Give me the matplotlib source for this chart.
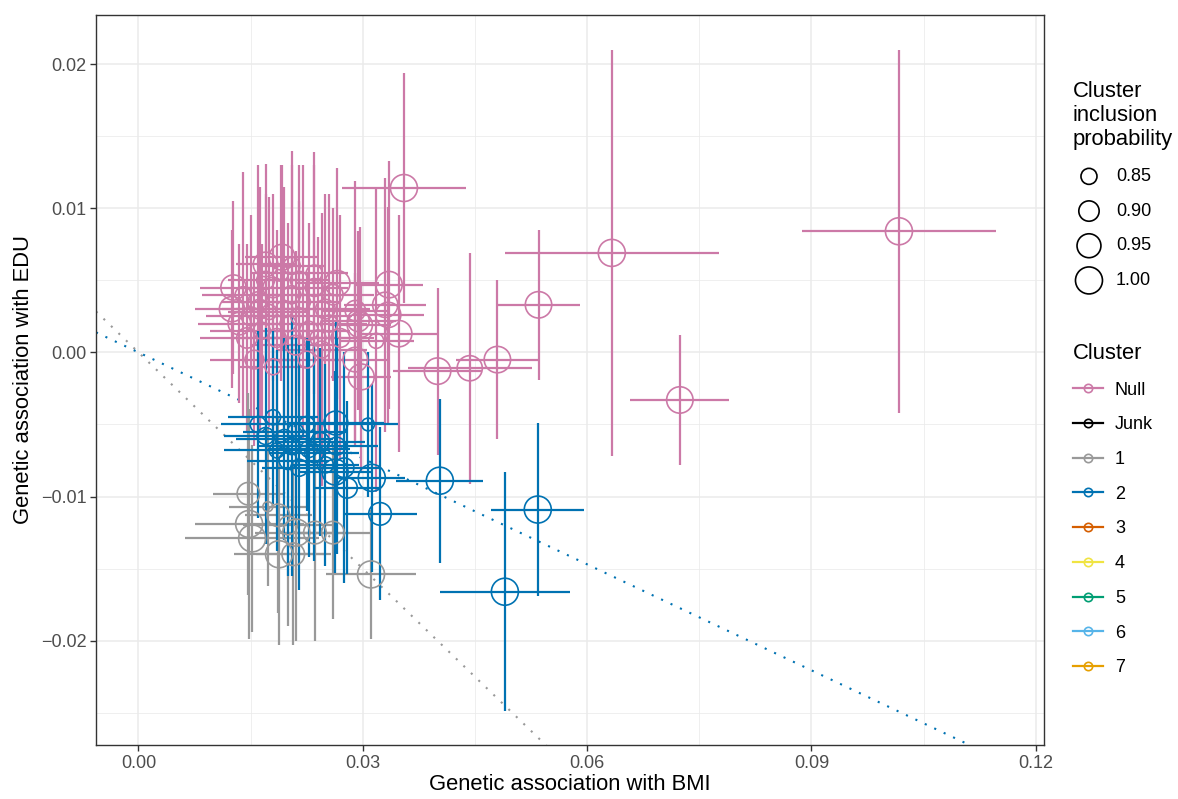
import numpy as np
import matplotlib
matplotlib.use("Agg")
import matplotlib.pyplot as plt
from matplotlib.lines import Line2D

plt.rcParams['font.family'] = ['Liberation Sans', 'DejaVu Sans']

# cluster Null (pink)
null_x = [0.0355, 0.0633, 0.1017, 0.0724, 0.0535, 0.0480, 0.0443, 0.0400, 0.0335, 0.0330,
          0.0334, 0.0348, 0.0296, 0.0266, 0.0290, 0.0298, 0.0192, 0.0170, 0.0127, 0.0125,
          0.0290, 0.0294, 0.0140, 0.0150, 0.0160, 0.0165, 0.0175, 0.0180, 0.0185, 0.0195,
          0.0200, 0.0205, 0.0210, 0.0215, 0.0220, 0.0228, 0.0235, 0.0240, 0.0250, 0.0255,
          0.0145, 0.0155, 0.0170, 0.0190, 0.0135, 0.0225, 0.0180, 0.0260, 0.0270, 0.0205,
          0.0235, 0.0215, 0.0162, 0.0318, 0.0245]
null_y = [0.0114, 0.0069, 0.0084, -0.0033, 0.0033, -0.0005, -0.0011, -0.0013, 0.0047, 0.0033,
          0.0026, 0.0013, 0.0019, 0.0048, -0.0005, -0.0017, 0.0066, 0.0061, 0.0045, 0.0030,
          0.0029, 0.0022, 0.0040, 0.0025, 0.0035, 0.0015, 0.0028, 0.0045, 0.0010, 0.0030,
          0.0020, 0.0040, 0.0005, 0.0025, 0.0035, 0.0015, 0.0045, 0.0010, 0.0030, 0.0020,
          0.0010, -0.0005, 0.0050, 0.0055, 0.0020, -0.0005, -0.0010, 0.0040, 0.0010, 0.0060,
          0.0055, 0.0050, 0.0030, 0.0008, 0.0002]
null_xe = [0.0083, 0.0143, 0.0130, 0.0066, 0.0055, 0.0056, 0.0083, 0.0060, 0.0045, 0.0055,
           0.0048, 0.0052, 0.0042, 0.0055, 0.0045, 0.0040, 0.0050, 0.0040, 0.0045, 0.0050,
           0.0045, 0.0050, 0.0055, 0.0060, 0.0050, 0.0070, 0.0055, 0.0045, 0.0060, 0.0065,
           0.0050, 0.0055, 0.0060, 0.0070, 0.0050, 0.0055, 0.0045, 0.0065, 0.0060, 0.0050,
           0.0063, 0.0060, 0.0050, 0.0040, 0.0055, 0.0050, 0.0045, 0.0055, 0.0045, 0.0045,
           0.0045, 0.0040, 0.0050, 0.0050, 0.0060]
null_ye = [0.0080, 0.0141, 0.0126, 0.0045, 0.0052, 0.0055, 0.0080, 0.0058, 0.0086, 0.0088,
           0.0075, 0.0082, 0.0068, 0.0080, 0.0060, 0.0065, 0.0064, 0.0070, 0.0060, 0.0055,
           0.0090, 0.0062, 0.0085, 0.0070, 0.0095, 0.0060, 0.0080, 0.0065, 0.0075, 0.0085,
           0.0070, 0.0100, 0.0065, 0.0080, 0.0095, 0.0075, 0.0085, 0.0070, 0.0080, 0.0090,
           0.0065, 0.0060, 0.0060, 0.0075, 0.0055, 0.0060, 0.0055, 0.0060, 0.0085, 0.0070,
           0.0084, 0.0080, 0.0085, 0.0105, 0.0095]
null_p = [1.00, 1.00, 1.00, 0.99, 0.99, 0.99, 0.97, 0.99, 0.99, 0.97,
          0.97, 0.99, 0.97, 0.97, 0.96, 0.98, 0.98, 0.96, 0.97, 0.97,
          0.90, 0.92, 0.85, 0.88, 0.90, 0.86, 0.84, 0.90, 0.88, 0.86,
          0.85, 0.87, 0.89, 0.86, 0.84, 0.88, 0.87, 0.85, 0.89, 0.86,
          0.90, 0.88, 0.87, 0.85, 0.93, 0.86, 0.85, 0.90, 0.88, 0.86,
          0.85, 0.87, 0.89, 0.84, 0.86]

# cluster 1 (grey)
c1_x = [0.0147, 0.0173, 0.0187, 0.0148, 0.0152, 0.0188, 0.0207, 0.0211, 0.0236, 0.0260,
        0.0311, 0.0200]
c1_y = [-0.0098, -0.0107, -0.0113, -0.0119, -0.0129, -0.0140, -0.0140, -0.0125, -0.0125, -0.0125,
        -0.0154, -0.0120]
c1_xe = [0.0047, 0.0052, 0.0045, 0.0073, 0.0090, 0.0060, 0.0050, 0.0055, 0.0045, 0.0050,
         0.0060, 0.0060]
c1_ye = [0.0070, 0.0055, 0.0068, 0.0080, 0.0065, 0.0063, 0.0063, 0.0075, 0.0075, 0.0060,
         0.0045, 0.0070]
c1_p = [0.93, 0.80, 0.93, 1.00, 1.00, 1.00, 0.93, 1.00, 0.93, 0.93,
        1.00, 0.88]

# cluster 2 (blue)
c2_x = [0.0403, 0.0534, 0.0490, 0.0323, 0.0312, 0.0279, 0.0263, 0.0307, 0.0264, 0.0243,
        0.0228, 0.0210, 0.0195, 0.0180, 0.0170, 0.0160, 0.0200, 0.0215, 0.0235, 0.0250,
        0.0185, 0.0275, 0.0225, 0.0265, 0.0205]
c2_y = [-0.0089, -0.0109, -0.0166, -0.0112, -0.0087, -0.0094, -0.0083, -0.0050, -0.0049, -0.0062,
        -0.0067, -0.0055, -0.0060, -0.0045, -0.0058, -0.0050, -0.0075, -0.0080, -0.0070, -0.0078,
        -0.0068, -0.0080, -0.0050, -0.0065, -0.0065]
c2_xe = [0.0058, 0.0062, 0.0087, 0.0050, 0.0045, 0.0045, 0.0050, 0.0040, 0.0065, 0.0060,
         0.0055, 0.0070, 0.0065, 0.0060, 0.0055, 0.0050, 0.0055, 0.0050, 0.0060, 0.0045,
         0.0070, 0.0050, 0.0055, 0.0055, 0.0045]
c2_ye = [0.0057, 0.0060, 0.0083, 0.0060, 0.0065, 0.0060, 0.0070, 0.0050, 0.0070, 0.0065,
         0.0075, 0.0065, 0.0070, 0.0060, 0.0075, 0.0065, 0.0080, 0.0085, 0.0075, 0.0070,
         0.0070, 0.0080, 0.0060, 0.0075, 0.0090]
c2_p = [1.00, 1.00, 1.00, 0.93, 1.00, 0.90, 0.98, 0.82, 0.95, 0.88,
        0.86, 0.85, 0.88, 0.84, 0.86, 0.85, 0.87, 0.86, 0.88, 0.85,
        0.84, 0.89, 0.85, 0.87, 0.86]

# slopes of the dotted lines through the origin
slope_c1 = -0.50
slope_c2 = -0.245

cluster_names = ['Null', 'Junk', '1', '2', '3', '4', '5', '6', '7']
cluster_cols = ['#CC79A7', '#000000', '#999999', '#0072B2', '#D55E00',
                '#F0E442', '#009E73', '#56B4E9', '#E69F00']
size_breaks = [0.85, 0.90, 0.95, 1.00]


def psize(p):
    # area-proportional size scale like ggplot's scale_size
    p = np.asarray(p)
    area_px = 20 + (p - 0.775) / 0.225 * 709
    return area_px * 0.5184


fig = plt.figure(figsize=(11.78, 7.99), dpi=100)
ax = fig.add_axes([96 / 1178, 54 / 799, (1044 - 96) / 1178, (745 - 15) / 799])

xlim = (-0.00568, 0.1211)
ylim = (-0.02723, 0.0234)
xs = np.array(xlim)
ax.plot(xs, slope_c1 * xs, ls=(0, (1, 4)), color='#999999', lw=1.5, zorder=2)
ax.plot(xs, slope_c2 * xs, ls=(0, (1, 4)), color='#0072B2', lw=1.5, zorder=2)

groups = [(null_x, null_y, null_xe, null_ye, null_p, cluster_cols[0]),
          (c1_x, c1_y, c1_xe, c1_ye, c1_p, cluster_cols[2]),
          (c2_x, c2_y, c2_xe, c2_ye, c2_p, cluster_cols[3])]
for gx, gy, gxe, gye, gp, col in groups:
    ax.errorbar(gx, gy, xerr=gxe, yerr=gye, fmt='none', ecolor=col,
                elinewidth=1.6, capsize=0, zorder=3)
    ax.scatter(gx, gy, s=psize(gp), facecolors='none', edgecolors=col,
               linewidths=1.2, zorder=4)

ax.set_xlim(*xlim)
ax.set_ylim(*ylim)
ax.set_xticks([0.00, 0.03, 0.06, 0.09, 0.12])
ax.set_xticklabels(['0.00', '0.03', '0.06', '0.09', '0.12'])
ax.set_yticks([-0.02, -0.01, 0.00, 0.01, 0.02])
ax.set_yticklabels(['\u22120.02', '\u22120.01', '0.00', '0.01', '0.02'])
ax.set_xticks([0.015, 0.045, 0.075, 0.105], minor=True)
ax.set_yticks([-0.025, -0.015, -0.005, 0.005, 0.015], minor=True)
ax.grid(which='major', color='#EBEBEB', lw=1.1, zorder=0)
ax.grid(which='minor', color='#EBEBEB', lw=0.55, zorder=0)
ax.set_axisbelow(True)
ax.tick_params(which='major', length=4, width=1, color='#333333',
               labelsize=13, labelcolor='#4D4D4D', pad=3)
ax.tick_params(which='minor', length=0)
for sp in ax.spines.values():
    sp.set_color('#333333')
    sp.set_linewidth(1.0)
ax.set_xlabel('Genetic association with BMI', fontsize=15.8, labelpad=2)
ax.set_ylabel('Genetic association with EDU', fontsize=15.8, labelpad=5)

# size legend
size_handles = [ax.scatter([], [], s=psize(b), facecolors='none', edgecolors='black',
                           linewidths=1.2) for b in size_breaks]
leg1 = fig.legend(size_handles, ['%.2f' % b for b in size_breaks],
                  title='Cluster\ninclusion\nprobability', loc='upper left',
                  bbox_to_anchor=(1073 / 1178, 1 - 81 / 799), frameon=False,
                  fontsize=13, title_fontsize=15.8, alignment='left',
                  handlelength=1.77, handletextpad=0.6, labelspacing=0.98,
                  borderpad=0, borderaxespad=0)

# cluster legend
col_handles = [Line2D([], [], color=c, lw=1.6, marker='o', markersize=6,
                      markerfacecolor='none', markeredgewidth=1.2) for c in cluster_cols]
leg2 = fig.legend(col_handles, cluster_names, title='Cluster', loc='upper left',
                  bbox_to_anchor=(1073 / 1178, 1 - 343 / 799), frameon=False,
                  fontsize=13, title_fontsize=15.8, alignment='left',
                  handlelength=1.66, handletextpad=0.66, labelspacing=0.98,
                  borderpad=0, borderaxespad=0)

fig.savefig('out.png', dpi=100)
